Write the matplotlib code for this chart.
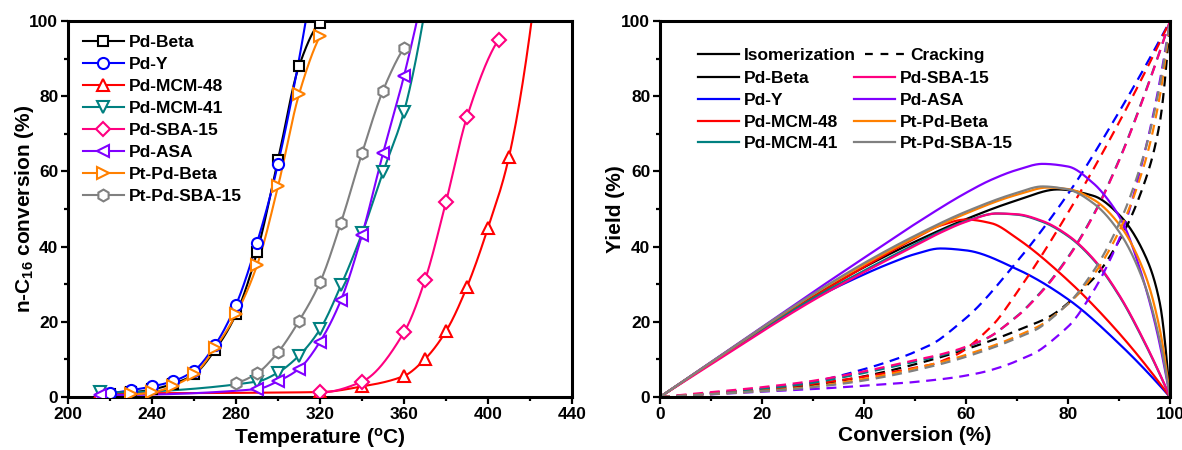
import numpy as np
import matplotlib
matplotlib.use("Agg")
import matplotlib.pyplot as plt
from matplotlib.lines import Line2D
from matplotlib.ticker import MultipleLocator

# ---------------- data: conversion vs temperature ----------------
beta_T = [220, 230, 240, 250, 260, 270, 280, 290, 300, 310, 320]
beta_conv = [0.8, 1.2, 2.0, 3.5, 6.0, 12.5, 22.0, 38.5, 63.0, 88.0, 99.5]

y_T = [220, 230, 240, 250, 260, 270, 280, 290, 300, 320]
y_conv = [1.0, 1.8, 2.8, 4.2, 7.0, 13.8, 24.5, 41.0, 62.0, 124.0]

mcm48_T = [215, 320, 340, 360, 370, 380, 390, 400, 410, 430]
mcm48_conv = [1.0, 1.3, 2.8, 5.6, 10.1, 17.5, 29.3, 45.0, 63.9, 145.0]

mcm41_T = [215, 290, 300, 310, 320, 330, 340, 350, 360, 370]
mcm41_conv = [1.2, 4.1, 6.5, 11.0, 18.0, 29.7, 43.5, 59.8, 75.9, 103.0]

sba_T = [320, 340, 360, 370, 380, 390, 405]
sba_conv = [1.2, 4.1, 17.2, 31.1, 51.9, 74.5, 95.0]

asa_T = [215, 290, 300, 310, 320, 330, 340, 350, 360, 370]
asa_conv = [0.5, 2.1, 4.2, 7.5, 14.7, 25.8, 43.1, 64.8, 85.4, 110.0]

ptbeta_T = [230, 240, 250, 260, 270, 280, 290, 300, 310, 320]
ptbeta_conv = [0.7, 1.2, 3.0, 6.0, 13.0, 22.0, 35.0, 56.0, 80.5, 96.0]

ptsba_T = [280, 290, 300, 310, 320, 330, 340, 350, 360]
ptsba_conv = [3.8, 6.3, 11.9, 20.2, 30.5, 46.4, 64.8, 81.5, 92.9]

# ---------------- data: isomerization yield vs conversion ----------------
beta_X = [0, 10, 20, 30, 40, 50, 60, 70, 78, 85, 90, 95, 98, 100]
beta_iso = [0, 9.2, 18.3, 26.8, 34.5, 41.3, 47.3, 52.3, 55.2, 53.5, 48.5, 38.0, 25.0, 0]

y_X = [0, 10, 20, 30, 40, 45, 50, 55, 60, 70, 80, 90, 100]
y_iso = [0, 9.0, 17.8, 26.0, 32.6, 35.5, 38.0, 39.5, 39.0, 34.0, 26.0, 14.2, 0]

mcm48_X = [0, 10, 20, 30, 40, 50, 55, 60, 65, 70, 80, 90, 100]
mcm48_iso = [0, 9.0, 17.9, 26.5, 34.6, 42.2, 45.6, 47.2, 46.2, 42.2, 31.0, 17.0, 0]

mcm41_X = [0, 10, 20, 30, 40, 50, 55, 60, 66, 70, 75, 80, 85, 90, 95, 100]
mcm41_iso = [0, 9.0, 17.8, 26.2, 33.6, 40.6, 44.0, 46.8, 48.8, 48.5, 46.6, 42.8, 36.5, 27.0, 14.5, 0]

sba_X = [0, 10, 20, 30, 40, 50, 55, 60, 66, 70, 75, 80, 85, 90, 95, 100]
sba_iso = [0, 8.7, 17.4, 25.7, 33.2, 40.2, 43.7, 46.6, 48.8, 48.6, 46.8, 43.0, 36.7, 27.2, 14.7, 0]

asa_X = [0, 10, 20, 30, 40, 50, 60, 65, 70, 75, 80, 85, 88, 91, 94, 97, 100]
asa_iso = [0, 9.3, 18.6, 27.9, 37.0, 46.0, 54.3, 57.8, 60.4, 62.0, 61.3, 56.8, 52.2, 45.6, 34.5, 20.0, 0]

ptbeta_X = [0, 10, 20, 30, 40, 50, 60, 70, 76, 80, 85, 90, 95, 98, 100]
ptbeta_iso = [0, 9.2, 18.4, 27.2, 35.2, 42.4, 48.8, 53.8, 55.7, 55.3, 52.5, 46.0, 33.0, 18.0, 0]

ptsba_X = [0, 10, 20, 30, 40, 50, 60, 70, 75, 80, 85, 90, 95, 98, 100]
ptsba_iso = [0, 9.25, 18.5, 27.4, 35.6, 42.9, 49.3, 54.3, 56.0, 55.2, 51.5, 44.0, 30.0, 15.0, 0]

names = ["Pd-Beta", "Pd-Y", "Pd-MCM-48", "Pd-MCM-41",
         "Pd-SBA-15", "Pd-ASA", "Pt-Pd-Beta", "Pt-Pd-SBA-15"]
colors = ["#000000", "#0000FF", "#FF0000", "#008080",
          "#FF0080", "#8000FF", "#FF8000", "#808080"]
markers = ["s", "o", "^", "v", "D", "<", ">", "h"]
msizes = [7, 8, 8.5, 8.5, 7, 8.5, 8.5, 8.5]

temps = [beta_T, y_T, mcm48_T, mcm41_T, sba_T, asa_T, ptbeta_T, ptsba_T]
convs = [beta_conv, y_conv, mcm48_conv, mcm41_conv, sba_conv, asa_conv,
         ptbeta_conv, ptsba_conv]
conv_pts = [beta_X, y_X, mcm48_X, mcm41_X, sba_X, asa_X, ptbeta_X, ptsba_X]
isos = [beta_iso, y_iso, mcm48_iso, mcm41_iso, sba_iso, asa_iso,
        ptbeta_iso, ptsba_iso]


def pchip(x, y, xn):
    """Shape-preserving piecewise cubic Hermite interpolation."""
    x = np.asarray(x, float)
    y = np.asarray(y, float)
    h = np.diff(x)
    d = np.diff(y) / h
    n = len(x)
    m = np.zeros(n)
    for k in range(1, n - 1):
        if d[k - 1] * d[k] > 0:
            w1 = 2 * h[k] + h[k - 1]
            w2 = h[k] + 2 * h[k - 1]
            m[k] = (w1 + w2) / (w1 / d[k - 1] + w2 / d[k])

    def edge(h0, h1, d0, d1):
        s = ((2 * h0 + h1) * d0 - h0 * d1) / (h0 + h1)
        if np.sign(s) != np.sign(d0):
            s = 0.0
        elif np.sign(d0) != np.sign(d1) and abs(s) > abs(3 * d0):
            s = 3 * d0
        return s

    if n > 2:
        m[0] = edge(h[0], h[1], d[0], d[1])
        m[-1] = edge(h[-1], h[-2], d[-1], d[-2])
    else:
        m[:] = d[0]
    xn = np.asarray(xn, float)
    idx = np.clip(np.searchsorted(x, xn) - 1, 0, n - 2)
    t = (xn - x[idx]) / h[idx]
    h00 = 2 * t**3 - 3 * t**2 + 1
    h10 = t**3 - 2 * t**2 + t
    h01 = -2 * t**3 + 3 * t**2
    h11 = t**3 - t**2
    return (h00 * y[idx] + h10 * h[idx] * m[idx]
            + h01 * y[idx + 1] + h11 * h[idx] * m[idx + 1])


plt.rcParams.update({
    "font.family": ["Liberation Sans", "DejaVu Sans"],
    "font.weight": "bold",
    "axes.labelweight": "bold",
    "mathtext.fontset": "custom",
    "mathtext.rm": "Liberation Sans:bold",
    "mathtext.it": "Liberation Sans:bold",
    "mathtext.bf": "Liberation Sans:bold",
    "mathtext.default": "bf",
    "axes.linewidth": 2.2,
})

W, H = 1182, 450
fig = plt.figure(figsize=(W / 100, H / 100), dpi=100)
ax1 = fig.add_axes([68 / W, 53 / H, (572 - 68) / W, 376 / H])
ax2 = fig.add_axes([660 / W, 53 / H, (1170 - 660) / W, 376 / H])

for ax in (ax1, ax2):
    ax.tick_params(which="major", direction="out", length=5, width=1.6,
                   labelsize=12.5, pad=2, top=False, right=False)
    ax.tick_params(which="minor", direction="out", length=3, width=1.6,
                   top=False, right=False)
    for lab in ax.get_xticklabels() + ax.get_yticklabels():
        lab.set_fontweight("bold")

# ---------------- left: conversion curves ----------------
handles1 = []
for T, c, col, mk, ms, name in zip(temps, convs, colors, markers, msizes, names):
    Tf = np.linspace(T[0], T[-1], 400)
    ax1.plot(Tf, pchip(T, c, Tf), color=col, lw=1.5, zorder=2)
    ax1.plot(T, c, linestyle="none", marker=mk, ms=ms, mfc="white",
             mec=col, mew=1.5, zorder=3)
    handles1.append(Line2D([], [], color=col, lw=1.5, marker=mk, ms=ms,
                           mfc="white", mec=col, mew=1.5, label=name))

ax1.set_xlim(200, 440)
ax1.set_ylim(0, 100)
ax1.xaxis.set_major_locator(MultipleLocator(40))
ax1.xaxis.set_minor_locator(MultipleLocator(20))
ax1.yaxis.set_major_locator(MultipleLocator(20))
ax1.yaxis.set_minor_locator(MultipleLocator(10))
ax1.set_xlabel(r"Temperature ($^{o}$C)", fontsize=15, labelpad=3)
ax1.set_ylabel(r"n-C$_{16}$ conversion (%)", fontsize=15, labelpad=-5)

leg1 = fig.legend(handles=handles1, loc="upper left",
                  bbox_to_anchor=(83 / W, 1 - 35 / H), frameon=False,
                  prop={"size": 12.5, "weight": "bold"}, borderpad=0,
                  borderaxespad=0, handlelength=2.35, handletextpad=0.3,
                  labelspacing=0.39, numpoints=1)

# ---------------- right: yield curves ----------------
dash = (0, (4.5, 3.0))
for X, iso, col in zip(conv_pts, isos, colors):
    Xf = np.linspace(0, 100, 800)
    iso_f = pchip(X, iso, Xf)
    crack_f = Xf - iso_f          # cracking = conversion - isomers
    ax2.plot(Xf, iso_f, color=col, lw=1.6, zorder=2)
    ax2.plot(Xf, crack_f, color=col, lw=1.6, linestyle=dash, zorder=2)

ax2.set_xlim(0, 100)
ax2.set_ylim(0, 100)
ax2.xaxis.set_major_locator(MultipleLocator(20))
ax2.xaxis.set_minor_locator(MultipleLocator(10))
ax2.yaxis.set_major_locator(MultipleLocator(20))
ax2.yaxis.set_minor_locator(MultipleLocator(10))
ax2.set_xlabel("Conversion (%)", fontsize=15, labelpad=3)
ax2.set_ylabel("Yield (%)", fontsize=15, labelpad=-3)

type_handles = [Line2D([], [], color="black", lw=1.6, label="Isomerization"),
                Line2D([], [], color="black", lw=1.6, linestyle=(0, (3.5, 3.5)),
                       label="Cracking")]
leg2 = fig.legend(handles=type_handles, loc="upper left", ncol=2,
                  bbox_to_anchor=(698 / W, 1 - 48 / H), frameon=False,
                  prop={"size": 12.5, "weight": "bold"}, borderpad=0,
                  borderaxespad=0, handlelength=2.35, handletextpad=0.3,
                  columnspacing=0.5)

cat_handles = [Line2D([], [], color=col, lw=1.6, label=name)
               for col, name in zip(colors, names)]
leg3 = fig.legend(handles=cat_handles, loc="upper left", ncol=2,
                  bbox_to_anchor=(698 / W, 1 - 71 / H), frameon=False,
                  prop={"size": 12.5, "weight": "bold"}, borderpad=0,
                  borderaxespad=0, handlelength=2.35, handletextpad=0.3,
                  labelspacing=0.38, columnspacing=0.9)

fig.savefig("out.png", dpi=100)
